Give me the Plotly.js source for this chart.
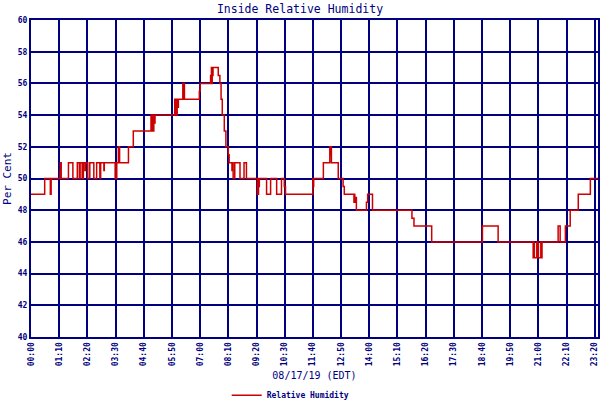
<!DOCTYPE html>
<html>
<head>
<meta charset="utf-8">
<script src="https://cdn.plot.ly/plotly-3.0.1.min.js"></script>
<style>
    body { margin: 0; background: white; }
    #plot { width: 600px; height: 400px; }
</style>
</head>
<body>
<div id="plot"></div>
<script>
// minutes after midnight where the reading changes
let minutes = [0, 34, 48, 50, 72, 73, 75, 93, 104, 115, 120, 122, 127, 130, 134, 135, 141, 146, 156, 163,
    171, 173, 181, 182, 209, 213, 217, 220, 242, 254,
    298, 299, 300, 301, 302, 303, 305, 306, 308,
    357, 358, 360, 361, 363, 364, 366, 377, 378, 379, 381, 418, 420,
    446, 447, 448, 449, 450, 451, 452, 465, 469, 472, 475, 480, 484, 490, 492, 499, 500, 502, 506, 519, 529, 535,
    562, 563, 564, 565, 567, 585, 595, 610, 622, 629, 632,
    700, 701, 702, 726, 742, 743, 744, 746, 763, 775, 778, 802, 803, 804, 806, 808, 833, 836, 848,
    946, 951, 995, 1121, 1160,
    1247, 1249, 1250, 1256, 1257, 1259, 1260, 1266, 1267, 1269, 1280,
    1309, 1314, 1327, 1339, 1359, 1389, 1408]
let humidity = [49, 50, 49, 50, 50.5, 51, 50, 51, 50, 51, 50, 51, 50, 51, 50.5, 51, 50, 51, 50, 51,
    50, 51, 50.5, 51, 50, 51, 52, 51, 52, 53,
    54, 53, 54, 53, 54, 53, 54, 53.5, 54,
    55, 54, 55, 54, 55, 54.5, 55, 56, 55, 56, 55, 55.5, 56,
    56.5, 56, 57, 56, 57, 56.5, 57, 56.5, 56, 55, 54, 53, 52, 51.5, 51, 50.5, 51, 50, 51, 50, 51, 50,
    49, 50, 49, 49.5, 50, 49, 50, 49, 50, 49.5, 49,
    50, 49.5, 50, 51, 52, 51.5, 52, 51, 50, 49.5, 49, 48.5, 49, 48.5, 48.8, 48, 48.5, 49, 48,
    47.5, 47, 46, 47, 46,
    45, 46, 45, 46, 45, 46, 45, 46, 45, 46, 46,
    47, 46, 47, 48, 49, 50, 50]

let tickMinutes = [0, 70, 140, 210, 280, 350, 420, 490, 560, 630, 700, 770, 840, 910, 980,
    1050, 1120, 1190, 1260, 1330, 1400, 1408]
let tickLabels = ["00:00", "01:10", "02:20", "03:30", "04:40", "05:50", "07:00", "08:10", "09:20", "10:30",
    "11:40", "12:50", "14:00", "15:10", "16:20", "17:30", "18:40", "19:50", "21:00", "22:10", "23:20", "23:29"]
let yTicks = [40, 42, 44, 46, 48, 50, 52, 54, 56, 58, 60]

let navy = "#000080"
let mono = "DejaVu Sans Mono, monospace"

var data = [{
    x: minutes,
    y: humidity,
    type: "scatter",
    mode: "lines",
    line: {shape: "hv", color: "#cc0000", width: 1.5},
    name: "Relative Humidity"
}]

var layout = {
    width: 600,
    height: 400,
    margin: {l: 31, r: 2, t: 20, b: 63},
    paper_bgcolor: "white",
    plot_bgcolor: "white",
    font: {family: mono, color: navy},
    title: {
        text: "Inside Relative Humidity",
        font: {family: mono, size: 11.5, color: navy},
        x: 0.5,
        xanchor: "center",
        y: 0.978,
        yanchor: "middle"
    },
    xaxis: {
        range: [0, 1408],
        tickmode: "array",
        tickvals: tickMinutes,
        ticktext: tickLabels,
        tickangle: -90,
        tickfont: {family: mono, size: 8, color: navy, weight: "bold"},
        ticks: "",
        showgrid: true,
        gridcolor: navy,
        gridwidth: 2,
        showline: true,
        mirror: true,
        linecolor: navy,
        linewidth: 2,
        zeroline: false,
        automargin: false,
        title: {text: "08/17/19 (EDT)", font: {family: mono, size: 10, color: navy}, standoff: 8}
    },
    yaxis: {
        range: [40, 60],
        tickmode: "array",
        tickvals: yTicks,
        tickfont: {family: mono, size: 8, color: navy, weight: "bold"},
        ticks: "",
        showgrid: true,
        gridcolor: navy,
        gridwidth: 2,
        showline: true,
        mirror: true,
        linecolor: navy,
        linewidth: 2,
        zeroline: false,
        automargin: false,
        title: {text: "Per Cent", font: {family: mono, size: 11, color: navy}, standoff: 4}
    },
    showlegend: true,
    legend: {
        orientation: "h",
        x: 0.458,
        xanchor: "center",
        yref: "container",
        y: 0.012,
        yanchor: "middle",
        font: {family: mono, size: 8, color: navy, weight: "bold"},
        bgcolor: "rgba(0,0,0,0)"
    }
}

Plotly.newPlot("plot", data, layout, {displayModeBar: false, staticPlot: true})
</script>
</body>
</html>
